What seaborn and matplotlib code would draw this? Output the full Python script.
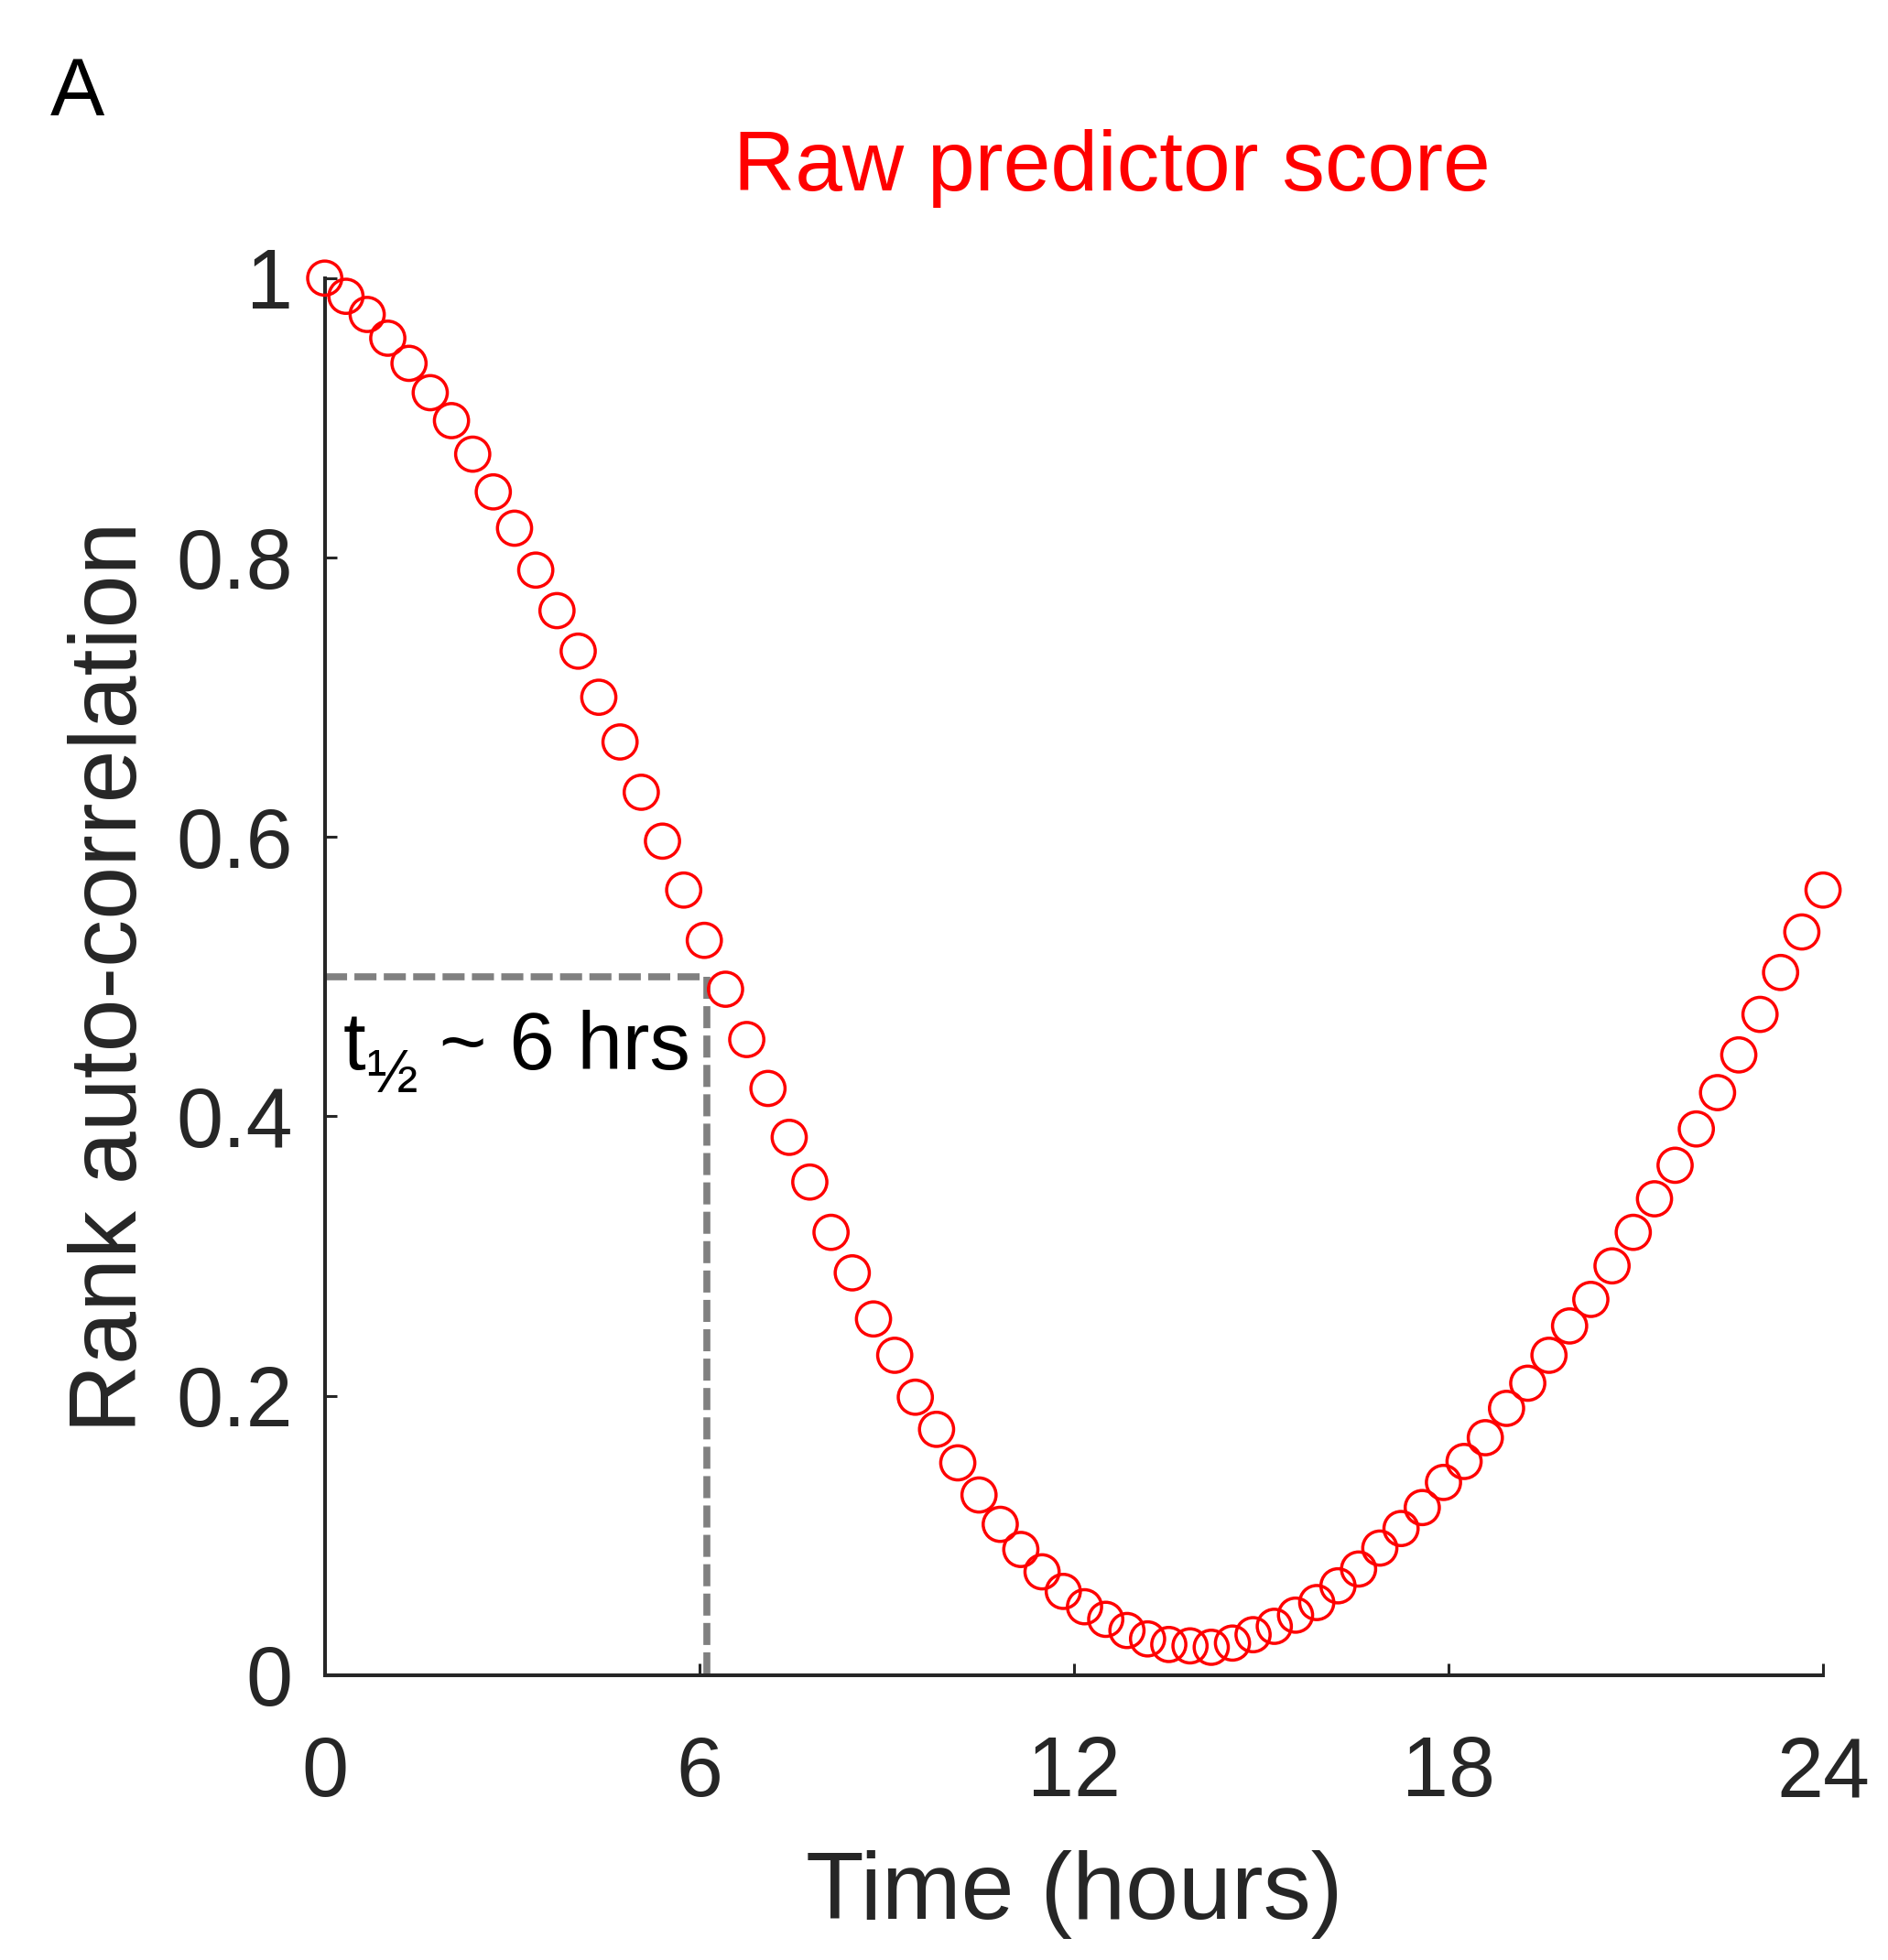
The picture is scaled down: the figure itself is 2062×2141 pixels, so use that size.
import matplotlib
matplotlib.use("Agg")
import matplotlib.pyplot as plt
import numpy as np
import pandas as pd
import seaborn as sns

# rank auto-correlation of the raw predictor score, 72 samples over 24 h
time_h = [0.00, 0.34, 0.68, 1.01, 1.35, 1.69, 2.03, 2.37, 2.70, 3.04,
          3.38, 3.72, 4.06, 4.39, 4.73, 5.07, 5.41, 5.75, 6.08, 6.42,
          6.76, 7.10, 7.44, 7.77, 8.11, 8.45, 8.79, 9.13, 9.46, 9.80,
          10.14, 10.48, 10.82, 11.15, 11.49, 11.83, 12.17, 12.51, 12.85, 13.18,
          13.52, 13.86, 14.20, 14.54, 14.87, 15.21, 15.55, 15.89, 16.23, 16.56,
          16.90, 17.24, 17.58, 17.92, 18.25, 18.59, 18.93, 19.27, 19.61, 19.94,
          20.28, 20.62, 20.96, 21.30, 21.63, 21.97, 22.31, 22.65, 22.99, 23.32,
          23.66, 24.00]
rank_acf = [1.000, 0.987, 0.974, 0.957, 0.939, 0.918, 0.898, 0.874, 0.847, 0.821,
            0.791, 0.762, 0.733, 0.700, 0.668, 0.632, 0.597, 0.562, 0.526, 0.491,
            0.455, 0.420, 0.385, 0.353, 0.317, 0.288, 0.255, 0.229, 0.199, 0.176,
            0.152, 0.129, 0.108, 0.090, 0.074, 0.060, 0.049, 0.040, 0.032, 0.026,
            0.022, 0.021, 0.020, 0.023, 0.029, 0.035, 0.043, 0.052, 0.064, 0.076,
            0.091, 0.105, 0.120, 0.138, 0.153, 0.170, 0.191, 0.209, 0.229, 0.250,
            0.269, 0.293, 0.317, 0.341, 0.365, 0.391, 0.417, 0.444, 0.473, 0.503,
            0.532, 0.562]

half_life_h = 6.12
half_level = 0.5

xticks = [0, 6, 12, 18, 24]
yticks = [0, 0.2, 0.4, 0.6, 0.8, 1]
ytick_labels = ["0", "0.2", "0.4", "0.6", "0.8", "1"]

df = pd.DataFrame({"time": time_h, "acf": rank_acf})

sns.set_style("ticks")
plt.rcParams["font.family"] = ["Liberation Sans", "DejaVu Sans"]

dark = "#262626"
fig = plt.figure(figsize=(20.62, 21.41), dpi=100)
ax = fig.add_axes([0.1720, 0.1453, 0.7936, 0.7128])

# half-life guide lines
ax.plot([0, half_life_h], [half_level, half_level], color="#808080", lw=5.5,
        dashes=(3.15, 1.05), zorder=1)
ax.plot([half_life_h, half_life_h], [half_level, 0], color="#808080", lw=5.5,
        dashes=(3.15, 1.05), zorder=1)

sns.scatterplot(data=df, x="time", y="acf", ax=ax, marker="o", s=720,
                facecolors="none", edgecolor="#FF0000", linewidth=2.5,
                clip_on=False, zorder=3, legend=False)

ax.set_xlim(0, 24)
ax.set_ylim(0, 1)
ax.set_xticks(xticks)
ax.set_yticks(yticks)
ax.set_yticklabels(ytick_labels)
sns.despine(ax=ax)
for sp in ["left", "bottom"]:
    ax.spines[sp].set_linewidth(2.9)
    ax.spines[sp].set_color(dark)
ax.tick_params(axis="both", direction="in", length=9.5, width=2.2,
               color=dark, labelcolor=dark, labelsize=66)
ax.tick_params(axis="x", pad=47)
ax.tick_params(axis="y", pad=25)

ax.set_xlabel("Time (hours)", fontsize=75, color=dark)
ax.set_ylabel("Rank auto-correlation", fontsize=75, color=dark)
ax.xaxis.set_label_coords(0.5, -0.125)
ax.yaxis.set_label_coords(-0.112, 0.5)

# "t½ ~ 6 hrs" with a subscript one-half
t_main = ax.text(0.3, 0.434, "t", fontsize=64, color="black",
                 va="baseline", ha="left")
t_sub = ax.annotate("½", xy=(1, 0), xycoords=t_main, xytext=(0, -4.3),
                    textcoords="offset points", fontsize=48, color="black",
                    va="baseline", ha="left")
ax.annotate(" ~ 6 hrs", xy=(1, 0), xycoords=(t_sub, t_main), fontsize=64,
            color="black", va="bottom", ha="left")

fig.text(0.5888, 0.903, "Raw predictor score", fontsize=67, color="#FF0000",
         ha="center", va="baseline")
fig.text(0.0267, 0.9413, "A", fontsize=64, color="black", ha="left",
         va="baseline")

fig.savefig("out.png", dpi=100, facecolor="white")
